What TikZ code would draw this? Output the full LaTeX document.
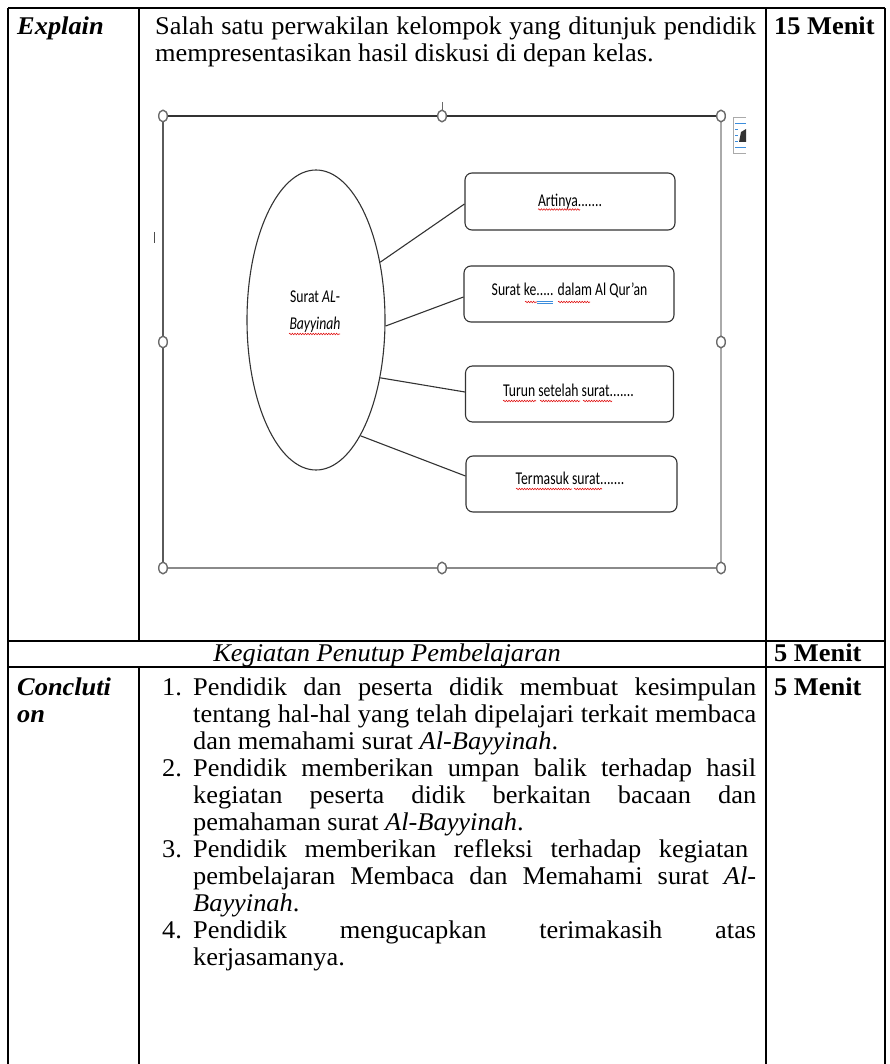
\documentclass[tikz,border=0pt]{standalone}
\usepackage{fontspec}
\setmainfont{Liberation Serif}[FakeStretch=1.035]
\newfontfamily\calfont{Carlito}[FakeStretch=0.76]
\usetikzlibrary{shapes.geometric,decorations.pathmorphing}
\newcommand{\jline}[2]{\makebox[#1][s]{#2}}
\definecolor{frdark}{HTML}{333333}
\definecolor{frleft}{HTML}{5A5A5A}
\definecolor{frright}{HTML}{AAAAAA}
\definecolor{frbot}{HTML}{8A8A8A}
\definecolor{hdl}{HTML}{6A6A6A}
\definecolor{shp}{HTML}{333333}
\definecolor{spell}{HTML}{E01010}
\definecolor{iconblue}{HTML}{3C8DDC}
\begin{document}
\begin{tikzpicture}[x=1pt,y=-1pt,
  tline/.style={line width=1.7pt, black},
  tt/.style={inner sep=0pt, anchor=base west, font=\fontsize{25.5}{27}\selectfont},
  ttb/.style={tt, font=\fontsize{25.5}{27}\selectfont\bfseries},
  ttbi/.style={tt, font=\fontsize{25.5}{27}\selectfont\bfseries\itshape},
  ptxt/.style={inner sep=0pt, anchor=base, font=\calfont\fontsize{18}{20}\selectfont},
  rbox/.style={draw=shp, line width=1.1pt, rounded corners=7pt, inner sep=0pt, minimum height=56pt},
  conn/.style={draw=shp, line width=1.1pt},
  handle/.style={draw=hdl, fill=white, line width=1.4pt},
  squig/.style={decorate, decoration={snake, amplitude=0.8pt, segment length=2.6pt}, draw=spell, line width=0.55pt}
]
\useasboundingbox (0,0) rectangle (889,1064);
% ---------- table grid ----------
\draw[tline] (8,8) -- (885,8);
\draw[tline] (8,641) -- (885,641);
\draw[tline] (8,667) -- (885,667);
\draw[tline] (8,8) -- (8,1064);
\draw[tline] (139,8) -- (139,641);
\draw[tline] (139,667) -- (139,1064);
\draw[tline] (766,8) -- (766,1064);
\draw[tline] (885,8) -- (885,1064);
% ---------- row 1 texts ----------
\node[ttbi] (explain) at (17,35) {Explain};
\node[tt] (p1) at (155,35) {\jline{601pt}{Salah satu perwakilan kelompok yang ditunjuk pendidik}};
\node[tt] (p2) at (155,62) {mempresentasikan hasil diskusi di depan kelas.};
\node[ttb] (m15) at (774,35) {15 Menit};
% ---------- embedded picture frame ----------
\coordinate (fTL) at (163,116);
\coordinate (fTM) at (442,116);
\coordinate (fTR) at (721,116);
\coordinate (fML) at (163,342);
\coordinate (fMR) at (721,342);
\coordinate (fBL) at (163,568);
\coordinate (fBM) at (442,568);
\coordinate (fBR) at (721,568);
\coordinate (rot) at (442,102);
\draw[frleft, line width=1.8pt] (fTL) -- (fBL);
\draw[frright, line width=1.2pt] (fTR) -- (fBR);
\draw[frbot, line width=2pt] (fBL) -- (fBR);
\draw[frdark, line width=2.8pt] (fTL) -- (fTR);
\draw[hdl, line width=0.8pt] (rot) -- (fTM);
\foreach \c in {fTL,fTM,fTR,fML,fMR,fBL,fBM,fBR}
  \draw[handle] (\c) ellipse [x radius=4.3, y radius=5.8];
% layout options icon (partly hidden)
\draw[frright, line width=0.8pt] (746,117.5) -- (733,117.5) -- (733,153) -- (746,153);
\draw[iconblue, line width=0.9pt] (735,123) -- (746,123) (735,147) -- (746,147)
  (735,129) -- (737.5,129) (735,135) -- (737.5,135) (735,141) -- (737.5,141);
\fill[black!80] (741,132) -- (746,129) -- (746,142) -- (739,142) -- cycle;
% cursor mark
\draw[black!70, line width=0.9pt] (154,232) -- (154,243);
% ---------- mind map ----------
\node[draw=shp, line width=1.1pt, ellipse, minimum width=138pt, minimum height=300pt, inner sep=0pt] (ell) at (316,320) {};
\node[ptxt] (ellt1) at (315,302) {Surat \textit{AL}-};
\node[ptxt] (ellt2) at (315,329) {\textit{Bayyinah}};
\node[rbox, minimum width=210pt, minimum height=57pt] (b1) at (570,201.5) {};
\node[rbox, minimum width=210pt] (b2) at (569,294) {};
\node[rbox, minimum width=208pt] (b3) at (569.5,394) {};
\node[rbox, minimum width=211pt] (b4) at (571.5,484) {};
\node[ptxt] (t1) at (570,207) {Artinya.......};
\node[ptxt] (t2) at (569.5,295) {Surat ke..... dalam Al Qur’an};
\node[ptxt] (t3) at (568.5,396) {Turun setelah surat.......};
\node[ptxt] (t4) at (570,484) {Termasuk surat.......};
\draw[conn] (ell.42) -- ([yshift=-2.5pt]b1.west);
\draw[conn] (ell.-5) -- ([yshift=-3pt]b2.west);
\draw[conn] (ell.-42) -- ([yshift=2pt]b3.west);
\draw[conn] (ell.-69) -- ([yshift=8pt]b4.west);
% spell-check underlines
\draw[squig] (538,209.5) -- (580,209.5);
\draw[squig] (525,302) -- (537,302);
\draw[iconblue, line width=0.5pt] (537,301) -- (553,301) (537,303.5) -- (553,303.5);
\draw[squig] (558,302) -- (590,302);
\draw[squig] (289,334) -- (340,334);
\draw[squig] (503,401) -- (536,401);
\draw[squig] (540,401) -- (580,401);
\draw[squig] (583,401) -- (612,401);
\draw[squig] (516,489) -- (572,489);
\draw[squig] (574,489) -- (602,489);
% ---------- closing row ----------
\node[tt, anchor=base] (keg) at (387,661) {\textit{Kegiatan Penutup Pembelajaran}};
\node[ttb] (m5a) at (774,661) {5 Menit};
% ---------- conclusion row ----------
\node[ttbi] (concl1) at (17,695) {Concluti};
\node[ttbi] (concl2) at (17,722) {on};
\node[ttb] (m5b) at (774,695) {5 Menit};
\node[tt] (n1) at (162,695) {1.};
\node[tt] (n2) at (162,776) {2.};
\node[tt] (n3) at (162,857) {3.};
\node[tt] (n4) at (162,938) {4.};
\node[tt] (l1) at (193,695) {\jline{563pt}{Pendidik dan peserta didik membuat kesimpulan}};
\node[tt] (l2) at (193,722) {\jline{563pt}{tentang hal-hal yang telah dipelajari terkait membaca}};
\node[tt] (l3) at (193,749) {dan memahami surat \textit{Al-Bayyinah}.};
\node[tt] (l4) at (193,776) {\jline{563pt}{Pendidik memberikan umpan balik terhadap hasil}};
\node[tt] (l5) at (193,803) {\jline{563pt}{kegiatan peserta didik berkaitan bacaan dan}};
\node[tt] (l6) at (193,830) {pemahaman surat \textit{Al-Bayyinah}.};
\node[tt] (l7) at (193,857) {\jline{555pt}{Pendidik memberikan refleksi terhadap kegiatan}};
\node[tt] (l8) at (193,884) {\jline{563pt}{pembelajaran Membaca dan Memahami surat \textit{Al-}}};
\node[tt] (l9) at (193,911) {\textit{Bayyinah}.};
\node[tt] (l10) at (193,938) {\jline{563pt}{Pendidik mengucapkan terimakasih atas}};
\node[tt] (l11) at (193,965) {kerjasamanya.};
\end{tikzpicture}
\end{document}
